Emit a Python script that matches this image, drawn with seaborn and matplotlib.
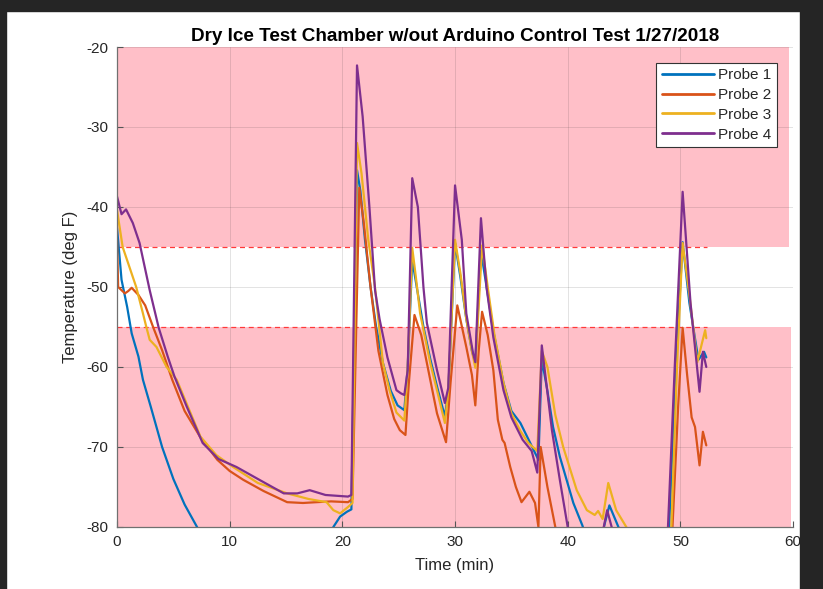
import numpy as np
import pandas as pd
import seaborn as sns
import matplotlib.pyplot as plt
from matplotlib.patches import Rectangle

# Probe readings (time in min, temperature in deg F)
t1 = [0, 0.4, 0.9, 1.3, 1.9, 2.3, 3.0, 4.0, 5.0, 6.0, 7.1, 8.0, 18.5, 19.2, 19.8, 20.4, 20.8,
      21.3, 21.6, 22.0, 22.5, 23.0, 23.6, 24.3, 24.9, 25.5, 25.8, 26.2, 26.6, 27.2, 27.8, 28.5,
      29.1, 29.4, 30.0, 30.5, 31.0, 31.5, 31.8, 32.3, 32.8, 33.4, 34.3, 35.0, 35.8, 36.5, 37.4,
      37.7, 38.2, 38.7, 39.3, 40.5, 41.3, 41.8, 42.9, 43.3, 43.7, 44.5, 45.0, 48.5, 49.0, 49.6,
      50.2, 50.8, 51.6, 52.1, 52.3]
p1 = [-42.6, -49.1, -52.5, -55.8, -58.7, -61.6, -65, -70, -74, -77.2, -80, -83, -83, -80, -78.7,
      -78.1, -77.8, -35.4, -38, -44, -50, -55, -59.5, -63, -64.8, -65.4, -60, -46.6, -50, -55,
      -59, -63, -66.2, -63, -44.5, -49, -54, -58, -59.5, -45.5, -50, -55.5, -62, -65.5, -67,
      -69, -71.6, -59, -63, -67.5, -71.2, -77, -79.8, -82, -82, -79.5, -77.3, -80, -82, -82,
      -80, -60, -44.4, -52, -59.1, -58.1, -58.8]

t2 = [0, 0.1, 0.7, 1.0, 1.3, 1.9, 2.5, 3.2, 4.0, 4.9, 6.0, 7.4, 8.9, 10.0, 11.2, 13.0, 15.1,
      16.5, 17.7, 19.0, 20.5, 20.9, 21.5, 21.9, 22.5, 23.2, 24.0, 24.6, 25.1, 25.6, 25.9, 26.4,
      27.0, 27.5, 28.4, 29.2, 29.6, 30.2, 31.0, 31.5, 31.8, 32.1, 32.4, 32.9, 33.4, 33.8, 34.2,
      34.4, 34.9, 35.4, 35.9, 36.6, 37.1, 37.4, 37.6, 38.2, 38.9, 39.5, 48.5, 49.3, 49.8, 50.2,
      50.6, 51.0, 51.3, 51.7, 52.0, 52.3]
p2 = [-44.1, -50, -50.8, -50.5, -50.1, -51, -52.3, -55, -57.9, -61.6, -65.5, -68.8, -71.6, -73,
      -74.1, -75.5, -76.9, -77, -76.9, -76.8, -76.9, -76.5, -37.6, -42, -50, -58, -63.5, -66.5,
      -67.9, -68.5, -62, -53.5, -56, -59.5, -65.8, -69.4, -62, -52.3, -57.5, -61, -64.8, -58,
      -53.1, -56, -60.4, -66.6, -69.1, -69.5, -72.5, -75, -76.9, -75.6, -77, -80, -70, -75,
      -80, -84, -84, -80, -65, -55.1, -61, -66.3, -67.5, -72.3, -68.1, -69.8]

t3 = [0, 0.5, 1.1, 1.7, 2.3, 2.6, 2.9, 3.5, 4.4, 5.3, 6.3, 7.4, 8.8, 10.3, 12.5, 15.1, 17.0,
      18.6, 19.2, 19.8, 20.5, 20.9, 21.3, 21.7, 22.3, 22.9, 23.6, 24.2, 24.8, 25.5, 25.8, 26.2,
      26.5, 26.9, 27.8, 28.5, 29.1, 29.4, 30.0, 30.5, 31.0, 31.5, 31.8, 32.4, 32.9, 33.5, 34.3,
      35.0, 35.8, 36.5, 37.3, 37.7, 38.2, 38.9, 39.6, 40.8, 41.7, 42.4, 42.7, 43.1, 43.6, 44.3,
      45.2, 45.8, 48.6, 49.2, 49.7, 50.2, 50.8, 51.5, 52.2, 52.3]
p3 = [-40.4, -45, -47.5, -50, -53.3, -55, -56.6, -57.5, -60, -61.6, -65, -68.7, -71, -72.5,
      -74.5, -75.8, -76.5, -76.9, -77.9, -78.3, -77.5, -77, -32, -35.8, -44.1, -50.1, -59.5,
      -63, -65.7, -66.7, -60, -45.1, -48.5, -53.3, -59.5, -63.5, -67, -63, -44.1, -48.5, -54,
      -58, -60.1, -44.8, -50, -56, -62, -65.8, -68, -69.5, -70.5, -58, -60, -66, -70, -75.4,
      -77.9, -78.5, -78, -79, -74.5, -77.9, -80, -82, -82, -80, -60, -44.5, -51, -59.4,
      -55.4, -56.4]

t4 = [0, 0.4, 0.8, 1.4, 2.0, 2.9, 3.7, 4.5, 5.1, 6.2, 7.6, 9.0, 10.6, 12.5, 14.8, 16.0, 17.1,
      18.5, 20.5, 20.8, 21.3, 21.8, 22.4, 22.9, 23.3, 24.0, 24.8, 25.2, 25.5, 25.8, 26.2, 26.7,
      27.2, 27.5, 28.4, 29.1, 29.4, 30.0, 30.6, 31.0, 31.6, 31.8, 32.3, 32.8, 33.4, 34.3, 35.0,
      36.0, 36.8, 37.3, 37.7, 38.6, 39.3, 40.0, 40.5, 42.8, 43.2, 43.5, 43.9, 44.3, 48.4, 48.9,
      49.5, 50.2, 50.9, 51.7, 52.0, 52.3]
p4 = [-38.7, -40.9, -40.3, -42, -44.5, -50.4, -55.1, -58.7, -61.2, -65, -69.5, -71.5, -72.5,
      -74, -75.8, -75.8, -75.4, -76, -76.2, -76, -22.3, -28.7, -40, -50.4, -54, -58.8, -62.9,
      -63.3, -63.5, -60.4, -36.4, -40, -50.1, -54.5, -60.4, -64.5, -62.6, -37.3, -44.1, -53.3,
      -58.3, -59.4, -41.4, -50.1, -56.3, -62.9, -66.3, -69.1, -70.5, -73.2, -57.3, -67.9,
      -74.1, -80, -83, -83, -80, -77.9, -80, -83, -83, -80, -60, -38.1, -52, -63.1, -58.1, -60]

probe_names = ['Probe 1', 'Probe 2', 'Probe 3', 'Probe 4']
probe_colors = ['#0072BD', '#D95319', '#EDB120', '#7E2F8E']

# Out-of-range bands and their limits
upper_limit = -45
lower_limit = -55
dash_end = 52.4
upper_band_end = 59.6
lower_band_end = 59.8

df = pd.concat([
    pd.DataFrame({'time': t, 'temp': p, 'probe': name})
    for t, p, name in zip([t1, t2, t3, t4], [p1, p2, p3, p4], probe_names)
])

sns.set_theme(style='white')
plt.rcParams['font.family'] = ['Liberation Sans', 'DejaVu Sans']
plt.rcParams['axes.unicode_minus'] = False

fig = plt.figure(figsize=(8.23, 5.89), dpi=100)
ax = fig.add_axes([0.1422, 0.1053, 0.8214, 0.8149])

ymin, ymax = -80, -20
xmin, xmax = 0, 60
pink = '#ffbfc8'
ax.axhspan(upper_limit, ymax, xmin=0, xmax=upper_band_end / xmax, color=pink, lw=0, zorder=0.2)
ax.axhspan(ymin, lower_limit, xmin=0, xmax=lower_band_end / xmax, color=pink, lw=0, zorder=0.2)
ax.plot([0, dash_end], [upper_limit, upper_limit], ls='--', color='#ff3a3a', lw=0.9,
        dashes=(4, 3), zorder=1)
ax.plot([0, dash_end], [lower_limit, lower_limit], ls='--', color='#ff3a3a', lw=0.9,
        dashes=(4, 3), zorder=1)

sns.lineplot(data=df, x='time', y='temp', hue='probe', palette=probe_colors,
             sort=False, estimator=None, linewidth=1.6, ax=ax, zorder=2)

ax.set_xlim(xmin, xmax)
ax.set_ylim(ymin, ymax)
ax.set_xticks(range(0, 61, 10))
ax.set_yticks(range(-80, -19, 10))
ax.grid(True, color='#262626', alpha=0.15, lw=0.6)
ax.set_axisbelow(True)
for side in ['top', 'right']:
    ax.spines[side].set_visible(False)
for side in ['left', 'bottom']:
    ax.spines[side].set_color('#707070')
    ax.spines[side].set_linewidth(0.9)
ax.tick_params(direction='in', length=4, width=0.8, color='#555555', pad=6,
               labelsize=11, labelcolor='#262626', left=True, bottom=True)

ax.set_xlabel('Time (min)', fontsize=12, color='#262626', labelpad=6)
ax.set_ylabel('Temperature (deg F)', fontsize=12, color='#262626', labelpad=6)
ax.set_title('Dry Ice Test Chamber w/out Arduino Control Test 1/27/2018',
             fontsize=13.6, fontweight='bold', color='#000000', pad=4)

handles, labels = ax.get_legend_handles_labels()
leg = ax.legend(handles, labels, loc='upper right', bbox_to_anchor=(0.976, 0.967),
                fontsize=11, handlelength=3.4, handletextpad=0.3, labelspacing=0.38,
                borderpad=0.35, borderaxespad=0, fancybox=False, framealpha=1,
                edgecolor='#333333')
leg.get_frame().set_linewidth(0.8)
for line in leg.get_lines():
    line.set_linewidth(2)

# dark screenshot frame around the figure
frame = '#252525'
fig.patches.append(Rectangle((0, 1 - 11 / 589), 1, 11 / 589, transform=fig.transFigure,
                             color=frame, zorder=10))
fig.patches.append(Rectangle((0, 0), 6 / 823, 1, transform=fig.transFigure,
                             color=frame, zorder=10))
fig.patches.append(Rectangle((800 / 823, 0), 23 / 823, 1, transform=fig.transFigure,
                             color=frame, zorder=10))

fig.savefig('out.png', dpi=100)
